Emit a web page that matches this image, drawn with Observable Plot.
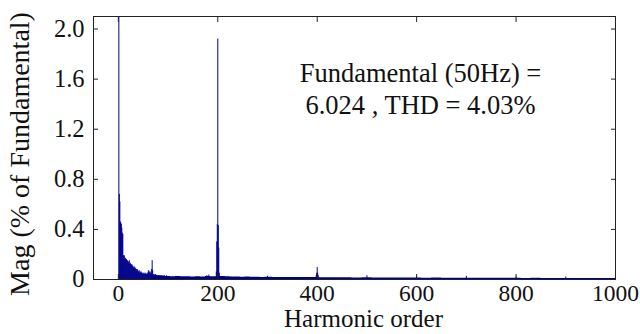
<!DOCTYPE html>
<html>
<head>
<meta charset="utf-8">
<script src="https://cdn.jsdelivr.net/npm/d3@7"></script>
<script src="https://cdn.jsdelivr.net/npm/@observablehq/plot@0.6"></script>
<style>
  html, body { margin: 0; padding: 0; background: #fff; }
</style>
</head>
<body>
<div id="chart"></div>
<script>
// Harmonic magnitude (% of fundamental) for orders 0..100; order 1 is the fundamental itself
const lowOrderMags = [
  0.00, 100, 0.68, 0.62, 0.46, 0.45, 0.44, 0.41, 0.37, 0.36,
  0.19, 0.18, 0.19, 0.16, 0.17, 0.16, 0.16, 0.15, 0.15, 0.14,
  0.14, 0.13, 0.15, 0.12, 0.13, 0.12, 0.11, 0.12, 0.11, 0.10,
  0.10, 0.09, 0.10, 0.09, 0.09, 0.08, 0.08, 0.07, 0.08, 0.07,
  0.06, 0.06, 0.07, 0.05, 0.06, 0.05, 0.06, 0.05, 0.05, 0.04,
  0.05, 0.04, 0.05, 0.04, 0.04, 0.05, 0.04, 0.04, 0.05, 0.04,
  0.06, 0.07, 0.06, 0.05, 0.06, 0.04, 0.05, 0.08, 0.15, 0.07,
  0.04, 0.03, 0.04, 0.03, 0.03, 0.04, 0.03, 0.03, 0.03, 0.02,
  0.03, 0.03, 0.02, 0.03, 0.02, 0.03, 0.02, 0.03, 0.02, 0.02,
  0.03, 0.02, 0.02, 0.03, 0.02, 0.02, 0.02, 0.03, 0.02, 0.02,
  0.02
];

// Distinct spectral lines above order 100 (switching sidebands and their multiples)
const peakOrders = [178, 182, 197, 198, 199, 200, 201, 202, 203, 300, 398, 399, 400, 401, 402, 500, 600, 700, 800, 900];
const peakMags   = [0.03, 0.035, 0.06, 0.30, 0.44, 1.92, 0.43, 0.25, 0.05, 0.025, 0.03, 0.05, 0.095, 0.05, 0.03, 0.03, 0.022, 0.025, 0.02, 0.02];

// Broadband interharmonic floor along the order axis
const floorOrders = [70, 80, 90, 100, 110, 120, 130, 140, 150, 160, 170, 180, 190, 210, 220, 230, 240, 250, 260, 270, 280, 290, 300, 320, 340, 360, 380, 420, 440, 460, 480, 500, 520, 540, 560, 580, 600, 620, 640, 660, 680, 700, 720, 740, 760, 780, 800, 820, 840, 860, 880, 900, 920, 940, 960, 980, 1000];
const floorMags   = [0.03, 0.028, 0.025, 0.024, 0.022, 0.023, 0.021, 0.022, 0.020, 0.021, 0.020, 0.024, 0.022, 0.024, 0.022, 0.020, 0.019, 0.018, 0.019, 0.017, 0.018, 0.016, 0.017, 0.016, 0.015, 0.016, 0.015, 0.014, 0.013, 0.013, 0.012, 0.013, 0.012, 0.011, 0.012, 0.011, 0.011, 0.010, 0.011, 0.010, 0.010, 0.010, 0.009, 0.010, 0.009, 0.009, 0.009, 0.008, 0.009, 0.008, 0.008, 0.008, 0.008, 0.007, 0.008, 0.007, 0.007];

// Axis ticks and texts
const xTicks = [0, 200, 400, 600, 800, 1000];
const yTicks = [0, 0.4, 0.8, 1.2, 1.6, 2.0];
const xLabel = "Harmonic order";
const yLabel = "Mag (% of Fundamental)";
const fundamentalHz = 50;
const fundamentalValue = "6.024";
const thdValue = "4.03%";

const lines = lowOrderMags.map((mag, order) => ({order, mag}))
  .concat(peakOrders.map((order, i) => ({order, mag: peakMags[i]})));
const floor = floorOrders.map((order, i) => ({order, mag: floorMags[i]}));
const note = `Fundamental (${fundamentalHz}Hz) =\n${fundamentalValue} , THD = ${thdValue}`;

const navy = "#00008b";
const ink = "#222";
const serif = "Liberation Serif";

const chart = Plot.plot({
  width: 640,
  height: 334,
  marginLeft: 93,
  marginRight: 25,
  marginTop: 16,
  marginBottom: 55,
  style: {fontFamily: serif, fontSize: "24px", color: "#111", background: "#fff"},
  x: {domain: [-50, 1000]},
  y: {domain: [0, 2.1]},
  marks: [
    Plot.areaY(floor, {x: "order", y: "mag", curve: "step", fill: navy}),
    Plot.ruleX(lines, {x: "order", y1: 0, y2: "mag", stroke: navy, strokeWidth: 1, clip: true}),
    Plot.frame({stroke: ink, strokeWidth: 1}),
    // inward ticks on all four sides, labels on the bottom and left only
    Plot.axisX(xTicks, {anchor: "bottom", tickSize: -5, tickPadding: 10, stroke: ink, label: null,
      fontFamily: serif, fontSize: 23.5, tickFormat: d => String(d)}),
    Plot.axisX(xTicks, {anchor: "top", tickSize: -5, stroke: ink, fill: "none", label: null}),
    Plot.axisY(yTicks, {anchor: "left", tickSize: -5, tickPadding: 14, stroke: ink, label: null,
      fontFamily: serif, fontSize: 24.5, tickFormat: d => d === 0 ? "0" : d.toFixed(1)}),
    Plot.axisY(yTicks, {anchor: "right", tickSize: -5, stroke: ink, fill: "none", label: null}),
    Plot.text([xLabel], {frameAnchor: "bottom", dx: 9, dy: 47, fontFamily: serif, fontSize: 25, fill: "#111"}),
    Plot.text([yLabel], {frameAnchor: "left", textAnchor: "middle", rotate: -90, dx: -73, dy: 6,
      fontFamily: serif, fontSize: 28, fill: "#111"}),
    Plot.text([note], {frameAnchor: "top-right", textAnchor: "middle", dx: -195, dy: 71,
      lineAnchor: "middle", lineHeight: 1.22, fontFamily: serif, fontSize: 26.5, fill: "#111"})
  ]
});

document.getElementById("chart").append(chart);
</script>
</body>
</html>
